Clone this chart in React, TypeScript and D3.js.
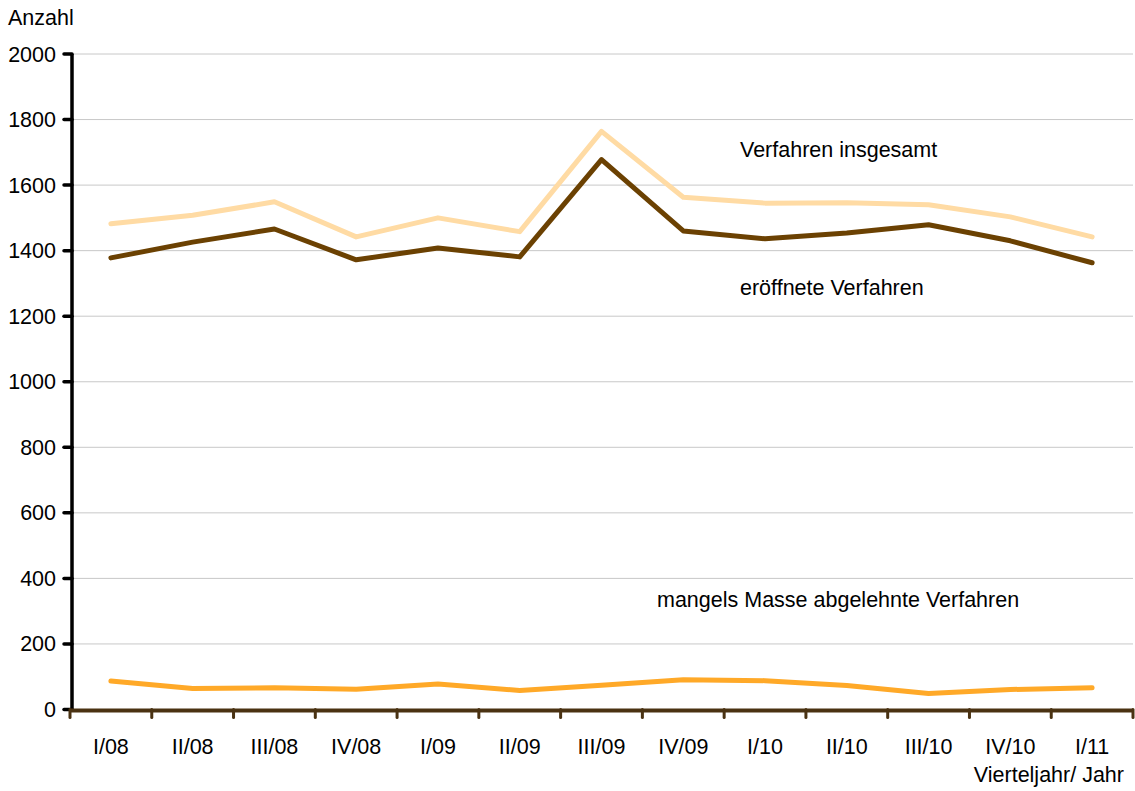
import React from "react";
import * as d3 from "d3";

const categories = ["I/08", "II/08", "III/08", "IV/08", "I/09", "II/09", "III/09", "IV/09", "I/10", "II/10", "III/10", "IV/10", "I/11"];
const insgesamt = [1482, 1508, 1549, 1442, 1500, 1458, 1764, 1563, 1545, 1546, 1540, 1503, 1442];
const eroeffnete = [1378, 1426, 1466, 1372, 1408, 1381, 1678, 1460, 1436, 1454, 1479, 1430, 1363];
const mangels = [87, 64, 66, 62, 78, 58, 74, 91, 88, 73, 49, 61, 66];
const yTicks = [0, 200, 400, 600, 800, 1000, 1200, 1400, 1600, 1800, 2000];

const W = 1135;
const H = 791;
const left = 70;
const right = 1133;
const top = 54;
const bottom = 709.5;
const font = "'Liberation Sans', Arial, sans-serif";
const fs = 21.5;

export default function App() {
  const x = d3.scaleBand<string>().domain(categories).range([left, right]).padding(0);
  const y = d3.scaleLinear().domain([0, 2000]).range([bottom, top]);
  const cx = (i: number) => (x(categories[i]) as number) + x.bandwidth() / 2;
  const line = d3
    .line<number>()
    .x((_, i) => cx(i))
    .y((d) => y(d));

  const series = [
    { data: insgesamt, color: "#FFDBA4" },
    { data: eroeffnete, color: "#6B4102" },
    { data: mangels, color: "#FFA928" },
  ];

  const boundaries = categories.map((c) => x(c) as number).concat([right]);

  return (
    <svg width={W} height={H} style={{ position: "absolute", left: 0, top: 0, background: "#fff" }} fontFamily={font}>
      {yTicks.filter((t) => t > 0).map((t) => (
        <line key={"g" + t} x1={72} x2={right} y1={y(t)} y2={y(t)} stroke="#c8c8c8" strokeWidth={1} />
      ))}
      {yTicks.map((t) => (
        <g key={"t" + t}>
          <line x1={64} x2={72} y1={y(t)} y2={y(t)} stroke="#000" strokeWidth={3.5} strokeLinecap="round" />
          <text x={56} y={y(t)} dy="0.35em" textAnchor="end" fontSize={fs} fill="#000">
            {t}
          </text>
        </g>
      ))}
      <line x1={72} x2={72} y1={top} y2={bottom} stroke="#000" strokeWidth={3.5} />
      {series.map((s, k) => (
        <path key={k} d={line(s.data) as string} fill="none" stroke={s.color} strokeWidth={5} strokeLinejoin="round" strokeLinecap="round" />
      ))}
      <line x1={left} x2={right} y1={bottom + 1} y2={bottom + 1} stroke="#4A3212" strokeWidth={4} />
      {boundaries.map((b, i) => (
        <line key={"xt" + i} x1={b} x2={b} y1={bottom} y2={bottom + 8} stroke="#4A3212" strokeWidth={3} strokeLinecap="round" />
      ))}
      {categories.map((c, i) => (
        <text key={c} x={cx(i)} y={754} textAnchor="middle" fontSize={fs} fill="#000">
          {c}
        </text>
      ))}
      <text x={8} y={25} fontSize={fs} fill="#000">Anzahl</text>
      <text x={1124} y={782} textAnchor="end" fontSize={fs} fill="#000">Vierteljahr/ Jahr</text>
      <text x={740} y={157} fontSize={fs} fill="#000">Verfahren insgesamt</text>
      <text x={740} y={295} fontSize={fs} fill="#000">eröffnete Verfahren</text>
      <text x={657} y={607} fontSize={fs} fill="#000">mangels Masse abgelehnte Verfahren</text>
    </svg>
  );
}
